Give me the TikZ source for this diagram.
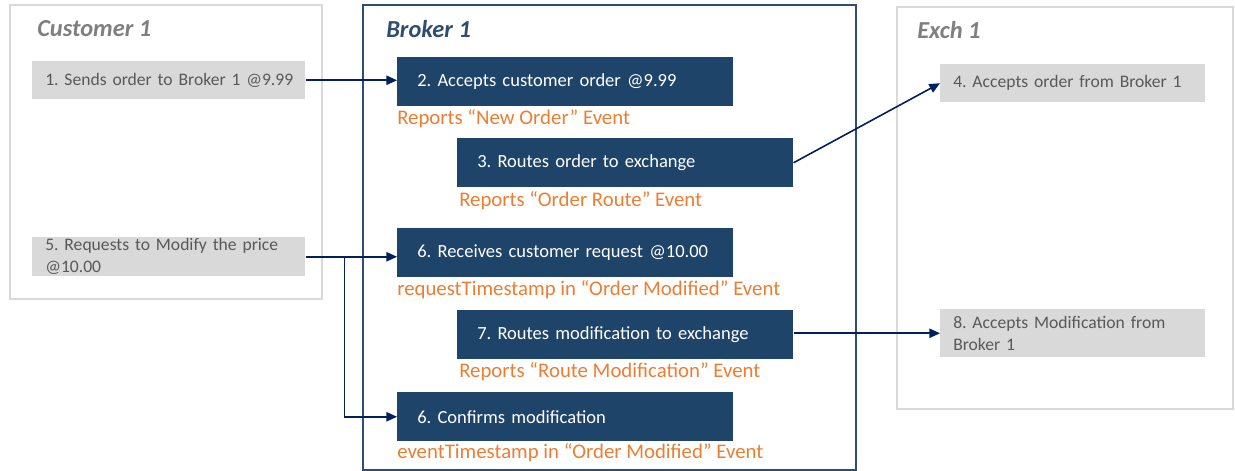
\documentclass[tikz,border=0pt]{standalone}
\usepackage{fontspec}
\setmainfont{Carlito}
\frenchspacing
\usetikzlibrary{arrows.meta,positioning}
\definecolor{stepblue}{HTML}{1F446A}
\definecolor{framegray}{HTML}{D9D9D9}
\definecolor{textgray}{HTML}{595959}
\definecolor{titlegray}{HTML}{7F7F7F}
\definecolor{brokerblue}{HTML}{2E4D70}
\definecolor{arrownavy}{HTML}{002060}
\definecolor{eventorange}{HTML}{ED7D31}

\begin{document}
\begin{tikzpicture}[x=0.75pt,y=-0.75pt,
  panel/.style={rectangle,draw=framegray,line width=1.6pt,anchor=north west,inner sep=0pt},
  title/.style={anchor=west,inner sep=0pt,font=\fontsize{18.3}{22}\selectfont\bfseries\itshape},
  stepbox/.style={rectangle,fill=stepblue,text=white,anchor=north west,align=left,
    inner xsep=15pt,inner ysep=0pt,text width=222pt,minimum height=36.75pt,
    font=\fontsize{13.9}{16.5}\selectfont},
  sidebox/.style={rectangle,fill=framegray,text=textgray,anchor=north west,align=left,
    inner xsep=9.75pt,inner ysep=0pt,minimum height=28.5pt,
    font=\fontsize{13.2}{16.5}\selectfont},
  eventlabel/.style={anchor=west,inner sep=0pt,text=eventorange,
    font=\fontsize{15.6}{18}\selectfont},
  flow/.style={-{Triangle[length=8pt,width=7pt]},arrownavy,line width=1.2pt}]

  \useasboundingbox (0,0) rectangle (1235,471);

  % the three parties
  \node[panel,minimum width=234pt,minimum height=220.5pt] (cust) at (9,4) {};
  \node[panel,draw=brokerblue,line width=1.5pt,minimum width=369.75pt,minimum height=348.75pt] (brok) at (362,4) {};
  \node[panel,minimum width=252pt,minimum height=301.5pt] (exch) at (896,6) {};

  \node[title,text=titlegray] (custT) at (37,29) {Customer 1};
  \node[title,text=brokerblue] (brokT) at (386,29) {Broker 1};
  \node[title,text=titlegray] (exchT) at (917,30) {Exch 1};

  % customer side
  \node[sidebox,text width=185.25pt] (c1) at (32,61) {\mbox{1. Sends order to Broker 1 @9.99}};
  \node[sidebox,text width=185.25pt,minimum height=29.25pt] (c5) at (32,237) {5. Requests to Modify the price\\@10.00};

  % broker steps
  \node[stepbox] (b2) at (397,57) {2. Accepts customer order @9.99};
  \node[stepbox] (b3) at (457,138) {3. Routes order to exchange};
  \node[stepbox] (b6r) at (397,228) {6. Receives customer request @10.00};
  \node[stepbox] (b7) at (457,310) {7. Routes modification to exchange};
  \node[stepbox] (b6c) at (397,392) {6. Confirms modification};

  \node[eventlabel] (e2) at ([yshift=-9pt]b2.south west) {Reports “New Order” Event};
  \node[eventlabel] (e3) at ([xshift=1.5pt,yshift=-9.75pt]b3.south west) {Reports “Order Route” Event};
  \node[eventlabel] (e6r) at ([yshift=-9pt]b6r.south west) {requestTimestamp in “Order Modified” Event};
  \node[eventlabel] (e7) at ([xshift=1.5pt,yshift=-9pt]b7.south west) {Reports “Route Modification” Event};
  \node[eventlabel] (e6c) at ([yshift=-8.25pt]b6c.south west) {eventTimestamp in “Order Modified” Event};

  % exchange side
  \node[sidebox,text width=179.25pt] (x4) at (940,64) {\mbox{4. Accepts order from Broker 1}};
  \node[sidebox,text width=179.25pt,minimum height=36pt] (x8) at (940,309) {8. Accepts Modification from\\Broker 1};

  \coordinate (split) at ([xshift=29.25pt]c5.east);

  \path[flow]
  (c1.east) edge (c1.east -| b2.west)
  (b3.east) edge (x4.west)
  (c5.east) edge (c5.east -| b6r.west)
  (x8.west -| b7.east) edge (x8.west);
  \draw[flow] (split) |- (b6c.west);

\end{tikzpicture}
\end{document}
